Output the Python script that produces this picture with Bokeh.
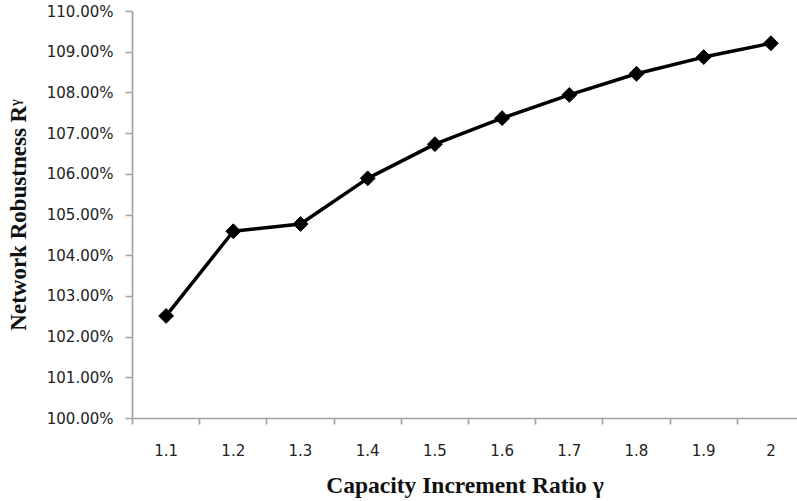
import math
from bokeh.plotting import figure
from bokeh.models import FixedTicker, PrintfTickFormatter, CustomJSTickFormatter, Range1d
from bokeh.embed import file_html
from bokeh.resources import INLINE

# ---- data ----
gamma_labels = ["1.1", "1.2", "1.3", "1.4", "1.5", "1.6", "1.7", "1.8", "1.9", "2"]
robustness = [102.52, 104.60, 104.78, 105.90, 106.74, 107.38, 107.95, 108.47, 108.88, 109.22]
y_ticks = [100, 101, 102, 103, 104, 105, 106, 107, 108, 109, 110]
x_title = "Capacity Increment Ratio γ"
y_title = "Network Robustness Rᵞ"

x_pos = [i + 1 for i in range(len(gamma_labels))]
x_bounds = [i + 0.5 for i in range(len(gamma_labels) + 1)]

W, H = 797, 500
LEFT, TOP, BOTTOM = 132, 11, 81
frame_w = W - LEFT
cat_px = 67.2
x_start = 0.5
x_end = x_start + frame_w / cat_px

p = figure(width=W, height=H, output_backend="svg", toolbar_location=None,
           x_range=Range1d(x_start, x_end), y_range=Range1d(100, 110),
           min_border_left=LEFT, min_border_right=0, min_border_top=TOP, min_border_bottom=BOTTOM)
p.outline_line_color = None
p.xgrid.grid_line_color = None
p.ygrid.grid_line_color = None
p.background_fill_color = "white"
p.border_fill_color = "white"

p.line(x_pos, robustness, line_color="black", line_width=3.5)
p.scatter(x_pos, robustness, marker="square", angle=math.pi / 4, size=10.5,
          fill_color="black", line_color="black")

axis_gray = "#a3a3a3"
tick_font = "DejaVu Sans"

xa = p.xaxis[0]
xa.ticker = FixedTicker(ticks=x_pos, minor_ticks=x_bounds)
xa.formatter = CustomJSTickFormatter(args=dict(labels=gamma_labels),
                                     code="return labels[Math.round(tick) - 1] || '';")
xa.axis_line_color = axis_gray
xa.axis_line_width = 1.7
xa.major_tick_out = 0
xa.major_tick_in = 0
xa.minor_tick_out = 6
xa.minor_tick_in = 0
xa.minor_tick_line_color = axis_gray
xa.minor_tick_line_width = 1.7
xa.major_label_text_font = tick_font
xa.major_label_text_font_size = "15px"
xa.major_label_text_color = "#222222"
xa.major_label_standoff = 19
xa.axis_label = x_title
xa.axis_label_text_font = "Liberation Serif"
xa.axis_label_text_font_style = "bold"
xa.axis_label_text_font_size = "23.5px"
xa.axis_label_text_color = "#111111"
xa.axis_label_text_line_height = 0.7
xa.axis_label_standoff = 13

ya = p.yaxis[0]
ya.ticker = FixedTicker(ticks=y_ticks)
ya.formatter = PrintfTickFormatter(format="%.2f%%")
ya.axis_line_color = axis_gray
ya.axis_line_width = 1.7
ya.major_tick_out = 7
ya.major_tick_in = 0
ya.major_tick_line_color = axis_gray
ya.major_tick_line_width = 1.7
ya.minor_tick_out = 0
ya.minor_tick_in = 0
ya.major_label_text_font = tick_font
ya.major_label_text_font_size = "15px"
ya.major_label_text_color = "#222222"
ya.major_label_standoff = 12
ya.axis_label = y_title
ya.axis_label_text_font = "Liberation Serif"
ya.axis_label_text_font_style = "bold"
ya.axis_label_text_font_size = "23px"
ya.axis_label_text_color = "#111111"
ya.axis_label_standoff = 13

open("out.html", "w").write(file_html(p, INLINE))
